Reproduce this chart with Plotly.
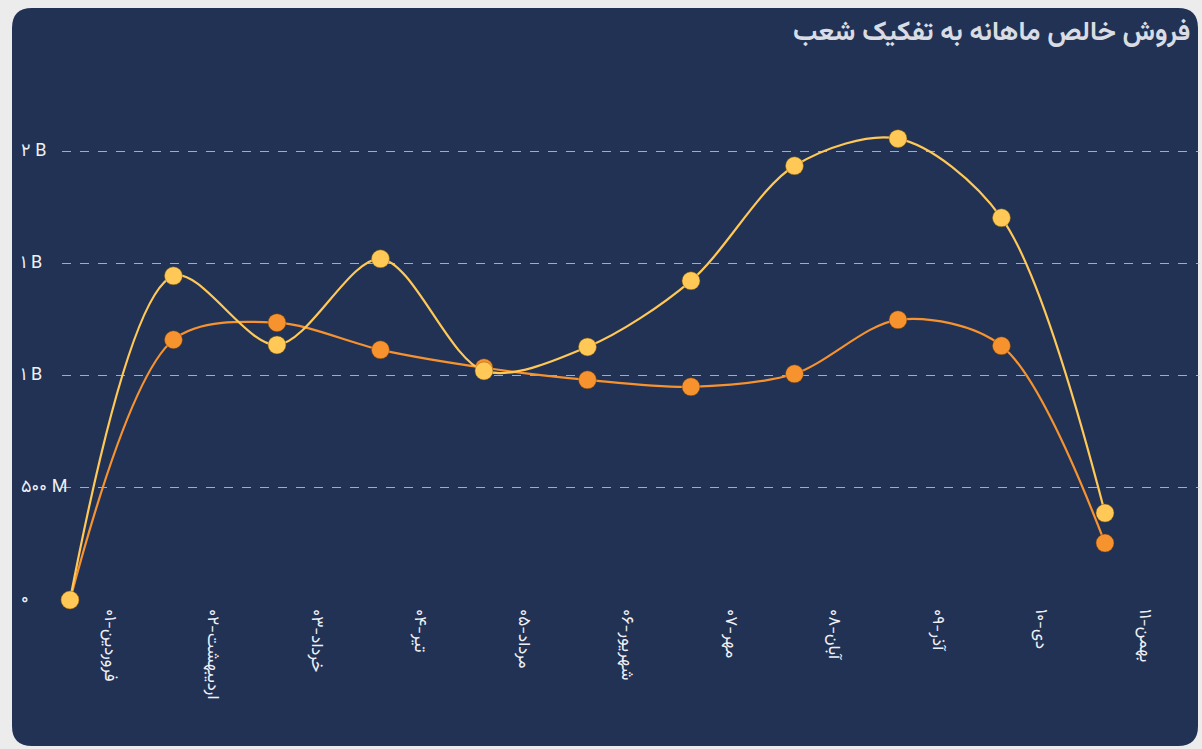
import plotly.graph_objects as go

months = ["فروردین-۰۱", "اردیبهشت-۰۲", "خرداد-۰۳", "تیر-۰۴", "مرداد-۰۵", "شهریور-۰۶",
          "مهر-۰۷", "آبان-۰۸", "آذر-۰۹", "دی-۱۰", "بهمن-۱۱"]
series_yellow = [0, 1.446e9, 1.138e9, 1.522e9, 1.022e9, 1.129e9, 1.424e9, 1.937e9, 2.058e9, 1.705e9, 0.388e9]
series_orange = [0, 1.161e9, 1.237e9, 1.116e9, 1.036e9, 0.982e9, 0.951e9, 1.009e9, 1.250e9, 1.134e9, 0.254e9]
y_tick_vals = [0, 0.5e9, 1.0e9, 1.5e9, 2.0e9]
y_tick_text = ["۰", "۵۰۰ M", "۱ B", "۱ B", "۲ B"]
title_text = "فروش خالص ماهانه به تفکیک شعب"

W, H = 1202, 749
ML, MR, MT, MB = 62, 2, 62, 149
PW, PH = W - ML - MR, H - MT - MB

def px2x(px):
    return (px - ML) / PW

def px2y(py):
    return (H - MB - py) / PH

FONT = "Vazirmatn, Tahoma, 'DejaVu Sans', sans-serif"
xs = list(range(len(months)))

fig = go.Figure()
fig.add_trace(go.Scatter(
    x=xs, y=series_orange, mode="lines+markers", name="orange",
    line=dict(color="#F7932F", width=2.2, shape="spline", smoothing=0.9),
    marker=dict(size=18, color="#F7932F", line=dict(color="rgba(120,60,0,0.45)", width=1)),
    cliponaxis=False, hoverinfo="x+y"))
fig.add_trace(go.Scatter(
    x=xs, y=series_yellow, mode="lines+markers", name="yellow",
    line=dict(color="#FFC857", width=2.2, shape="spline", smoothing=0.9),
    marker=dict(size=18, color="#FFC857", line=dict(color="rgba(130,90,0,0.45)", width=1)),
    cliponaxis=False, hoverinfo="x+y"))

# rounded background rectangle
x0, x1 = px2x(12), px2x(1198)
y1, y0 = px2y(8), px2y(746)
r = 20
rx, ry = r / PW, r / PH
path = (f"M {x0+rx},{y1} L {x1-rx},{y1} Q {x1},{y1} {x1},{y1-ry} "
        f"L {x1},{y0+ry} Q {x1},{y0} {x1-rx},{y0} L {x0+rx},{y0} "
        f"Q {x0},{y0} {x0},{y0+ry} L {x0},{y1-ry} Q {x0},{y1} {x0+rx},{y1} Z")
fig.add_shape(type="path", path=path, xref="paper", yref="paper",
              fillcolor="#213255", line=dict(width=0), layer="below")

annotations = []
for v, t in zip(y_tick_vals, y_tick_text):
    annotations.append(dict(x=px2x(19), xref="paper", y=v, yref="y", text=t,
                            showarrow=False, xanchor="left", yanchor="middle",
                            font=dict(family=FONT, size=18, color="#eef0f5")))
annotations.append(dict(x=px2x(1192), xref="paper", y=px2y(33), yref="paper",
                        text=f"<b>{title_text}</b>", showarrow=False, xanchor="right", yanchor="middle",
                        font=dict(family=FONT, size=27, color="#d9dce3")))

fig.update_layout(
    width=W, height=H,
    margin=dict(l=ML, r=MR, t=MT, b=MB),
    paper_bgcolor="#ececec", plot_bgcolor="rgba(0,0,0,0)",
    showlegend=False,
    font=dict(family=FONT, color="#e6e9f0"),
    annotations=annotations,
    xaxis=dict(range=[-0.077, 10.918], tickmode="array",
               tickvals=[i + 0.39 for i in xs], ticktext=months,
               tickangle=90, showgrid=False, zeroline=False, showline=False,
               ticks="", ticklabelstandoff=8,
               tickfont=dict(family=FONT, size=17, color="#eef0f5"), fixedrange=True),
    yaxis=dict(range=[0, 2.4e9], tickmode="array", tickvals=y_tick_vals,
               showticklabels=False, showgrid=True, gridcolor="rgba(205,212,228,0.75)",
               griddash="dash", gridwidth=1, zeroline=False, showline=False, fixedrange=True),
)

fig.write_html("out.html")
